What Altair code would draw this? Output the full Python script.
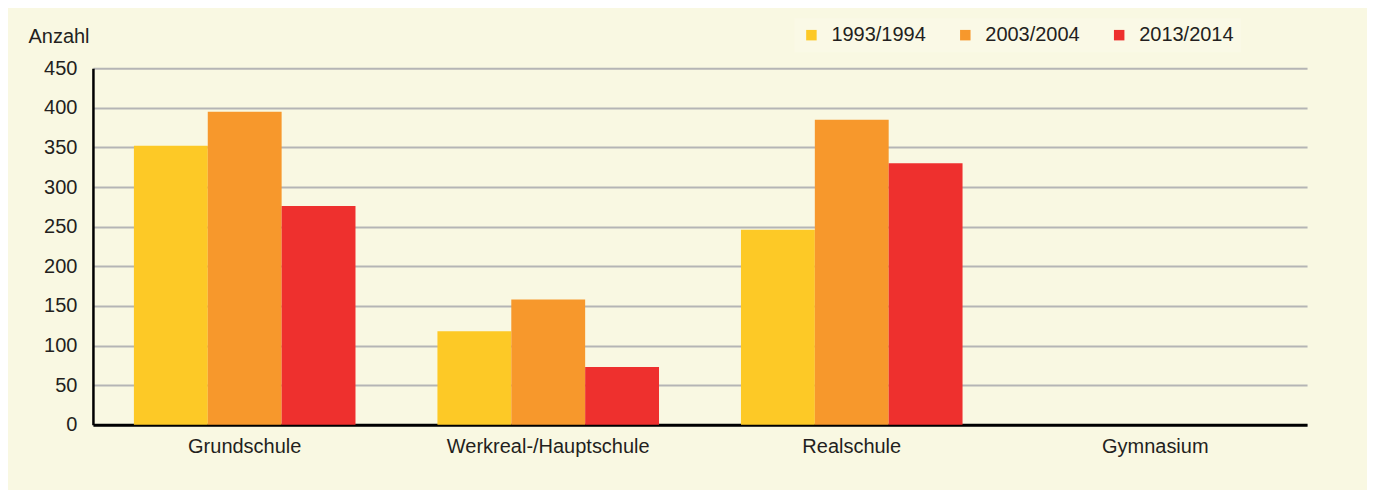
import altair as alt
import pandas as pd

schools = ["Grundschule", "Werkreal-/Hauptschule", "Realschule", "Gymnasium"]
years = ["1993/1994", "2003/2004", "2013/2014"]
v1993 = [352, 118, 246, None]
v2003 = [395, 158, 385, None]
v2013 = [276, 73, 330, None]
colors = ["#FDC926", "#F7982C", "#EE302E"]

rows = []
for i, s in enumerate(schools):
    for y, vals in zip(years, [v1993, v2003, v2013]):
        rows.append({"Schulart": s, "Jahr": y, "Anzahl": vals[i]})
df = pd.DataFrame(rows)

font = "Liberation Sans"
fs = 20
bars = alt.Chart(df).mark_bar().encode(
    x=alt.X("Schulart:N", sort=schools,
            scale=alt.Scale(domain=schools, paddingInner=0.27, paddingOuter=0.135),
            axis=alt.Axis(title=None, labelAngle=0, labelFontSize=fs, labelFont=font,
                          labelColor="#231F20", labelPadding=12, labelLimit=400, ticks=False,
                          domainColor="#000000", domainWidth=3, grid=False)),
    xOffset=alt.XOffset("Jahr:N", sort=years),
    y=alt.Y("Anzahl:Q", scale=alt.Scale(domain=[0, 450]),
            axis=alt.Axis(values=list(range(0, 451, 50)), title="Anzahl", titleAngle=0,
                          titleAlign="left", titleBaseline="alphabetic", titleX=-65, titleY=-26,
                          titleFont=font, titleFontSize=fs, titleFontWeight="normal",
                          titleColor="#231F20",
                          labelFontSize=fs, labelFont=font, labelColor="#231F20",
                          labelPadding=16, ticks=False, domainColor="#000000", domainWidth=2.5,
                          gridColor="#B5B5B5", gridWidth=2)),
    color=alt.Color("Jahr:N", sort=years, scale=alt.Scale(domain=years, range=colors),
                    legend=alt.Legend(title=None, orient="none", direction="horizontal",
                                      legendX=702, legendY=-50, columns=3,
                                      symbolType="square", symbolSize=110,
                                      symbolStrokeWidth=0, labelFontSize=fs, labelFont=font,
                                      labelColor="#231F20", labelOffset=10, columnPadding=29,
                                      padding=7, fillColor="#FAF9E6")),
)

chart = bars.properties(
    width=1215, height=357,
    autosize=alt.AutoSizeParams(type="none"),
    padding={"left": 85, "right": 60, "top": 60, "bottom": 65},
    background="#F9F8E2",
).configure_view(stroke=None, fill="#F9F8E2")

chart.save("out.html", embed_options={"renderer": "svg", "actions": False})
